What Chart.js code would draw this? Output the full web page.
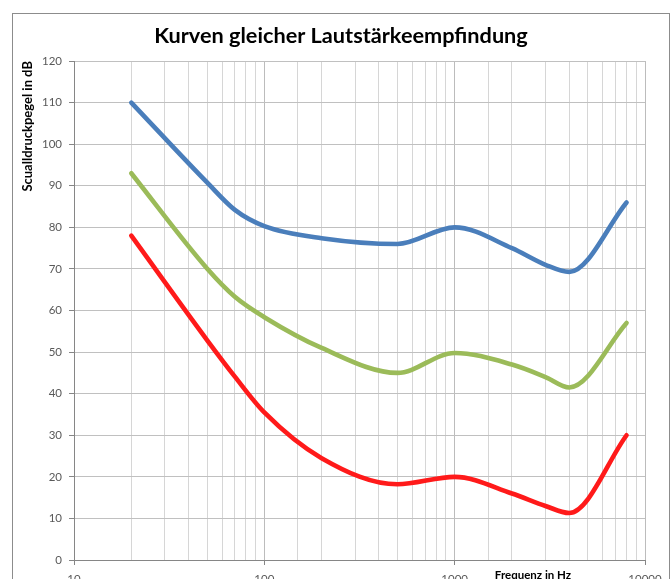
<!DOCTYPE html>
<html>
<head>
<meta charset="utf-8">
<script src="https://cdn.jsdelivr.net/npm/chart.js@4.4.1/dist/chart.umd.min.js"></script>
<style>
  html, body { margin: 0; padding: 0; background: #fff; overflow: hidden; width: 672px; height: 579px; }
  #frame { position: absolute; left: 12px; top: 13px; width: 656px; height: 640px; border: 1px solid #8c8c8c; }
  #wrap { position: absolute; left: 0; top: 0; width: 672px; height: 600px; }
</style>
</head>
<body>
<div id="frame"></div>
<div id="wrap"><canvas id="chart"></canvas></div>
<script>
// Frequenzen (Hz) und Pegel (dB) der drei Kurven
const frequencies = [20, 50, 70, 100, 200, 500, 1000, 2000, 3000, 4000, 8000];
const curveTop = [110, 90.8, 84.2, 80.3, 77.4, 76, 80, 75, 71, 69.3, 86];
const curveMid = [93, 70.1, 63.3, 58.4, 51, 45, 49.8, 47, 44, 41.5, 57];
const curveLow = [78, 52.9, 44.1, 35.5, 24.5, 18.2, 20, 16, 13, 11.3, 30];
const xTickLabels = [10, 100, 1000, 10000];

const isDecade = (v) => xTickLabels.some((t) => Math.abs(t - v) < 1e-6);

function toPoints(values) {
  return frequencies.map((f, i) => ({ x: f, y: values[i] }));
}

function lineSet(values, color) {
  return {
    data: toPoints(values),
    borderColor: color,
    borderWidth: 4.6,
    pointRadius: 0,
    cubicInterpolationMode: "monotone",
    borderCapStyle: "round",
    borderJoinStyle: "round",
    fill: false
  };
}

// x-axis title sits beside the tick labels, like the original
const xTitlePlugin = {
  id: "xTitle",
  afterDraw(chart) {
    const { ctx, chartArea } = chart;
    ctx.save();
    ctx.font = "bold 11.5px Lato";
    ctx.fillStyle = "#000";
    ctx.textAlign = "center";
    ctx.textBaseline = "middle";
    ctx.fillText("Frequenz in Hz", chartArea.right - 112, chartArea.bottom + 15);
    ctx.restore();
  }
};

const ctx = document.getElementById("chart").getContext("2d");
new Chart(ctx, {
  type: "line",
  data: {
    datasets: [
      lineSet(curveTop, "#4a7ebb"),
      lineSet(curveMid, "#9bbb59"),
      lineSet(curveLow, "#ff1a1a")
    ]
  },
  options: {
    responsive: true,
    maintainAspectRatio: false,
    animation: false,
    layout: { padding: { left: 10, right: 0, top: 0, bottom: 0 } },
    plugins: {
      legend: { display: false },
      tooltip: { enabled: false },
      title: {
        display: true,
        text: "Kurven gleicher Lautstärkeempfindung",
        color: "#000",
        font: { family: "Lato", size: 21.7, weight: "bold", lineHeight: 1.2 },
        padding: { top: 23, bottom: 12 }
      }
    },
    scales: {
      x: {
        type: "logarithmic",
        min: 10,
        max: 10000,
        afterFit: (scale) => {
          scale.height = 40;
          scale.paddingRight = 27;
        },
        border: { color: "#868686" },
        grid: {
          color: (c) => (c.tick && isDecade(c.tick.value) ? "#bcbcbc" : "#d6d6d6"),
          tickColor: (c) => (c.tick && isDecade(c.tick.value) ? "#868686" : "rgba(0,0,0,0)"),
          tickLength: 5
        },
        ticks: {
          autoSkip: false,
          maxRotation: 0,
          minRotation: 0,
          padding: 7,
          color: "#595959",
          font: { family: "Lato", size: 11.5 },
          callback: (value) => (isDecade(value) ? String(Math.round(value)) : "")
        }
      },
      y: {
        min: 0,
        max: 120,
        afterFit: (scale) => { scale.width = 64; },
        border: { color: "#868686" },
        grid: { color: "#c0c0c0", tickColor: "#868686", tickLength: 5 },
        ticks: {
          stepSize: 10,
          padding: 7,
          color: "#595959",
          font: { family: "Lato", size: 11.5 }
        },
        title: {
          display: true,
          text: "Scualldruckpegel in dB",
          align: "end",
          color: "#000",
          font: { family: "Lato", size: 13, weight: "bold", lineHeight: 1.2 },
          padding: { top: 10 }
        }
      }
    }
  },
  plugins: [xTitlePlugin]
});
</script>
</body>
</html>
